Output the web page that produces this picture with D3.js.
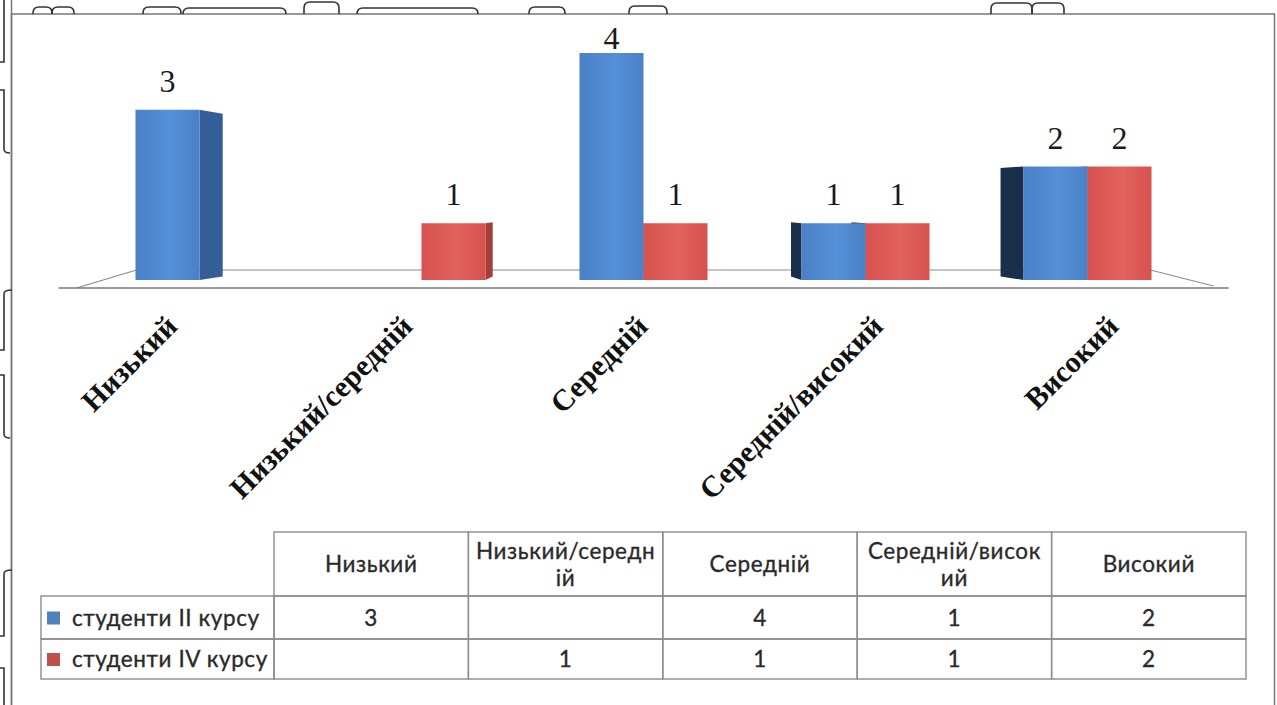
<!DOCTYPE html>
<html><head><meta charset="utf-8">
<script src="https://cdn.jsdelivr.net/npm/d3@7"></script>
<style>html,body{margin:0;padding:0;background:#fff;} svg{display:block}</style>
</head><body>
<svg id="chart" width="1277" height="705"></svg>
<script>
// ---------- data ----------
const categories = ["Низький", "Низький/середній", "Середній", "Середній/високий", "Високий"];
const seriesNames = ["студенти II курсу", "студенти IV курсу"];
const seriesII = [3, null, 4, 1, 2];
const seriesIV = [null, 1, 1, 1, 2];
const valueDomain = [0, 4];

// ---------- setup ----------
const svg = d3.select("#chart");
const W = 1277, H = 705;
const colors = {
  front: ["#4a80c6", "#d6524e"],
  frontHi: ["#5590d8", "#e2625d"],
  sideRight: ["#345e98", "#a63d3a"],
  sideLeft: ["#1b2f4d", "#6e2523"],
  legend: ["#4f81bd", "#c0504d"]
};

const defs = svg.append("defs");
seriesNames.forEach((s, i) => {
  const g = defs.append("linearGradient").attr("id", "fg" + i).attr("x1", 0).attr("x2", 1).attr("y1", 0).attr("y2", 0);
  g.append("stop").attr("offset", "0%").attr("stop-color", colors.front[i]);
  g.append("stop").attr("offset", "55%").attr("stop-color", colors.frontHi[i]);
  g.append("stop").attr("offset", "100%").attr("stop-color", colors.front[i]);
});

// ---------- frame & scan artifacts ----------
svg.append("rect").attr("x", 11.5).attr("y", 14).attr("width", 1263).attr("height", 760)
  .attr("fill", "#fff").attr("stroke", "#777").attr("stroke-width", 1.5);
svg.append("line").attr("x1", 11.5).attr("x2", 11.5).attr("y1", 0).attr("y2", H).attr("stroke", "#777").attr("stroke-width", 1.5);

const artifacts = [
  "M4,0 V62 H0",
  "M0,90 H4 V149 Q4,153 10,153",
  "M12,290 Q4,290 4,294 V350 H0",
  "M0,375 H4 V434 Q4,438 10,438",
  "M12,570 Q4,570 4,574 V636 H0",
  "M0,668 H4 V705"
];
const tabs = [[33,52,7],[52,74,7],[143,181,7],[183,286,8],[304,339,2],[357,478,8],[529,565,7],[629,667,6],[991,1032,3],[1032,1064,3]];
tabs.forEach(t => {
  const [a, b, top] = t, r = Math.min(6, (b - a) / 2);
  artifacts.push(`M${a},14 V${top + r} Q${a},${top} ${a + r},${top} H${b - r} Q${b},${top} ${b},${top + r} V14`);
});
svg.append("g").selectAll("path").data(artifacts).join("path")
  .attr("d", d => d).attr("fill", "none").attr("stroke", "#333").attr("stroke-width", 1.6);

// ---------- scales ----------
const x = d3.scaleBand().domain(categories).range([88.5, 1198.5]).paddingInner(0).paddingOuter(0);
const barW = x.bandwidth() * 0.2883;
const xs = d3.scaleBand().domain(seriesNames).range([x.bandwidth() / 2 - barW, x.bandwidth() / 2 + barW]);
const y = d3.scaleLinear().domain(valueDomain).range([280, 53]);

// perspective (3-D look)
const vx = 614, vy = 200, kx = 0.056, ky = 0.045;
const back = (px, py) => [px + kx * (vx - px), py + ky * (vy - py)];

// ---------- floor ----------
const y0 = y(0);
const [rx0, rx1] = x.range();
const floor = svg.append("g").attr("fill", "none");
floor.append("path").attr("d", `M${rx0 - 12},${y0 + 8} L${rx0 + 48},${y0 - 10} H${rx1 - 48} L${rx1 + 15},${y0 + 6}`)
  .attr("stroke", "#8a8a8a").attr("stroke-width", 1.2);
floor.append("line").attr("x1", rx0 - 30).attr("x2", rx1 + 30).attr("y1", y0 + 8).attr("y2", y0 + 8)
  .attr("stroke", "#7a7a7a").attr("stroke-width", 1.4);

// ---------- bars ----------
const bars = [];
categories.forEach((c, ci) => {
  [seriesII, seriesIV].forEach((arr, si) => {
    const v = arr[ci];
    if (v == null) return;
    const x0 = x(c) + xs(seriesNames[si]);
    bars.push({ c, si, v, x0, x1: x0 + xs.bandwidth(), yt: y(v), yb: y(0) });
  });
});
bars.sort((a, b) => Math.abs((b.x0 + b.x1) / 2 - vx) - Math.abs((a.x0 + a.x1) / 2 - vx));

const gb = svg.append("g");
bars.forEach(b => {
  const g = gb.append("g");
  if (b.x1 < vx) {
    const p = [[b.x1, b.yt], back(b.x1, b.yt), back(b.x1, b.yb), [b.x1, b.yb]];
    g.append("path").attr("d", "M" + p.join("L") + "Z").attr("fill", colors.sideRight[b.si]);
  }
  if (b.x0 > vx) {
    const p = [[b.x0, b.yt], back(b.x0, b.yt), back(b.x0, b.yb), [b.x0, b.yb]];
    g.append("path").attr("d", "M" + p.join("L") + "Z").attr("fill", colors.sideLeft[b.si]);
  }
  g.append("rect").attr("x", b.x0).attr("y", b.yt).attr("width", b.x1 - b.x0).attr("height", b.yb - b.yt)
    .attr("fill", `url(#fg${b.si})`);
});

// value labels (kept inside the chart area, as the original does for the tallest bar)
svg.append("g").selectAll("text").data(bars).join("text")
  .attr("x", d => (d.x0 + d.x1) / 2).attr("y", d => Math.max(d.yt - 18, 49))
  .attr("text-anchor", "middle").attr("font-family", "'Liberation Serif', 'Times New Roman', serif")
  .attr("font-size", 32).attr("fill", "#1a1a1a").text(d => d.v);

// category labels
svg.append("g").selectAll("text").data(categories).join("text")
  .attr("transform", c => {
    const cx = x(c) + x.bandwidth() / 2;
    const lx = cx + 6 + 0.06 * (cx - 643.5);
    return `translate(${lx},328) rotate(-45)`;
  })
  .attr("text-anchor", "end").attr("font-family", "'Liberation Serif', 'Times New Roman', serif")
  .attr("font-weight", "bold").attr("font-size", 30).attr("fill", "#111").text(c => c);

// ---------- data table ----------
const tx = d3.scaleBand().domain(categories).range([274, 1246]);
const rowsY = [532, 596, 639, 679];
const legendX = 41;
const tbl = svg.append("g").attr("font-family", "Lato, Carlito, Calibri, sans-serif").attr("font-size", 22.5)
  .attr("letter-spacing", 0.6).attr("fill", "#2a2a2a").attr("stroke", "#2a2a2a").attr("stroke-width", 0.35);
const cellStroke = "#8c8c8c";
const grid = svg.append("g").attr("fill", "none").attr("stroke", cellStroke).attr("stroke-width", 1.4);

// header cells
categories.forEach(c => {
  grid.append("rect").attr("x", tx(c)).attr("y", rowsY[0]).attr("width", tx.bandwidth()).attr("height", rowsY[1] - rowsY[0]);
  const lines = [];
  for (let i = 0; i < c.length; i += 14) lines.push(c.slice(i, i + 14));
  const midY = (rowsY[0] + rowsY[1]) / 2;
  const lh = 27;
  lines.forEach((ln, li) => {
    tbl.append("text").attr("x", tx(c) + tx.bandwidth() / 2)
      .attr("y", midY + (li - (lines.length - 1) / 2) * lh + 8)
      .attr("text-anchor", "middle").text(ln);
  });
});

// data rows
[seriesII, seriesIV].forEach((arr, si) => {
  const top = rowsY[si + 1], bot = rowsY[si + 2];
  grid.append("rect").attr("x", legendX).attr("y", top).attr("width", tx.range()[0] - legendX).attr("height", bot - top);
  svg.append("rect").attr("x", legendX + 6).attr("y", (top + bot) / 2 - 6).attr("width", 13).attr("height", 13)
    .attr("fill", colors.legend[si]);
  tbl.append("text").attr("x", legendX + 31).attr("y", (top + bot) / 2 + 8).text(seriesNames[si]);
  categories.forEach((c, ci) => {
    grid.append("rect").attr("x", tx(c)).attr("y", top).attr("width", tx.bandwidth()).attr("height", bot - top);
    if (arr[ci] != null)
      tbl.append("text").attr("x", tx(c) + tx.bandwidth() / 2).attr("y", (top + bot) / 2 + 8)
        .attr("text-anchor", "middle").text(arr[ci]);
  });
});
</script>
</body></html>
